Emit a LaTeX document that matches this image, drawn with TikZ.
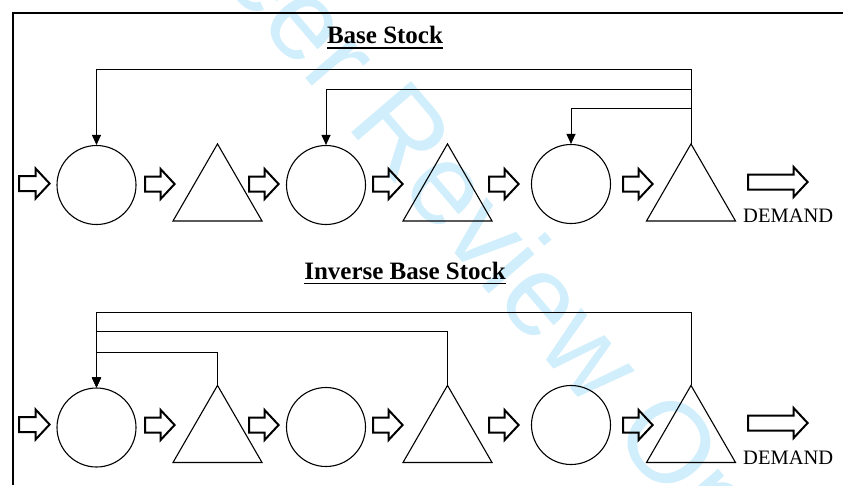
\documentclass[tikz,border=0pt]{standalone}
\usepackage{fontspec}
\setmainfont{Liberation Serif}
\newfontfamily\wmfont{Liberation Sans}
\usetikzlibrary{arrows.meta,shapes.geometric}
\definecolor{wmblue}{RGB}{208,238,251}
\tikzset{
  store/.style={circle, draw, line width=1.1pt, minimum size=79pt, inner sep=0pt},
  stage/.style={regular polygon, regular polygon sides=3, draw, line width=1.1pt,
                minimum size=102.8pt, inner sep=0pt, outer sep=0pt},
  flow/.style={draw, line width=2pt, line join=miter},
  feedback/.style={draw, line width=1pt, -{Triangle[length=10pt,width=9pt]}},
  title/.style={font=\bfseries\fontsize{25}{30}\selectfont, inner sep=0pt, anchor=base},
  demand/.style={font=\fontsize{20.5}{24}\selectfont, inner sep=0pt, anchor=base west},
  frame/.style={line width=2.3pt},
  wm/.style={font=\wmfont\fontsize{114.5}{130}\selectfont, text=wmblue, rotate=-49.5, inner sep=0pt},
}
% hollow block arrow: left x, tip x, centre y
\newcommand\flowarrow[3]{%
  \draw[flow] (#1,#3-7.5) -- (#2-14,#3-7.5) -- (#2-14,#3-15) -- (#2,#3)
    -- (#2-14,#3+15) -- (#2-14,#3+7.5) -- (#1,#3+7.5) -- cycle;}
\begin{document}
\begin{tikzpicture}[x=1pt, y=-1pt]
\useasboundingbox (0,0) rectangle (843,485);
\begin{scope}
  \clip (0,0) rectangle (843,485);
  \node[wm] (mark) at (422,169) {For Peer Review Only};
\end{scope}

% frame
\draw[frame] (12.7,485) -- (12.7,12.7) -- (843,12.7);

% ---------------- Base Stock ----------------
\node[title] (head1) at (385,43.3) {Base Stock};
\draw[line width=1.8pt] ([yshift=-4.5pt]head1.base west) -- ([yshift=-4.5pt]head1.base east);

\node[store] (c1) at (96.5,185) {};
\node[stage] (s1) at (217.5,195.3) {};
\node[store] (c2) at (326,185) {};
\node[stage] (s2) at (447.5,195.3) {};
\node[store] (c3) at (571,184) {};
\node[stage] (s3) at (691,195.3) {};
\node[demand] (d1) at (743,222.7) {DEMAND};

\flowarrow{19}{49.6}{183.5}
\flowarrow{145}{174.6}{184}
\flowarrow{249}{278.6}{184}
\flowarrow{373}{402.6}{184}
\flowarrow{489}{518.6}{184}
\flowarrow{623}{652.6}{184}
\flowarrow{748}{807.6}{182}

\draw[feedback] (s3.corner 1) -- ++(0,-74) -| (c1.north);
\draw[feedback] (s3.corner 1) -- ++(0,-54.5) -| (c2.north);
\draw[feedback] (s3.corner 1) -- ++(0,-35) -| (c3.north);

% ---------------- Inverse Base Stock ----------------
\node[title] (head2) at (405,279) {Inverse Base Stock};
\draw[line width=1.8pt] ([yshift=-4.5pt]head2.base west) -- ([yshift=-4.5pt]head2.base east);

\node[store] (c4) at (96.5,427.5) {};
\node[stage] (s4) at (217.5,436.8) {};
\node[store] (c5) at (326,427) {};
\node[stage] (s5) at (447.5,436.8) {};
\node[store] (c6) at (571,425) {};
\node[stage] (s6) at (691,436.8) {};
\node[demand] (d2) at (743,464) {DEMAND};

\flowarrow{19}{49.6}{424.5}
\flowarrow{145}{174.6}{425}
\flowarrow{249}{278.6}{425}
\flowarrow{373}{402.6}{425}
\flowarrow{489}{518.6}{425}
\flowarrow{623}{652.6}{425}
\flowarrow{748}{807.6}{423}

\draw[feedback] (s6.corner 1) -- ++(0,-73) -| (c4.north);
\draw[feedback] (s5.corner 1) -- ++(0,-54) -| (c4.north);
\draw[feedback] (s4.corner 1) -- ++(0,-33) -| (c4.north);
\end{tikzpicture}
\end{document}
